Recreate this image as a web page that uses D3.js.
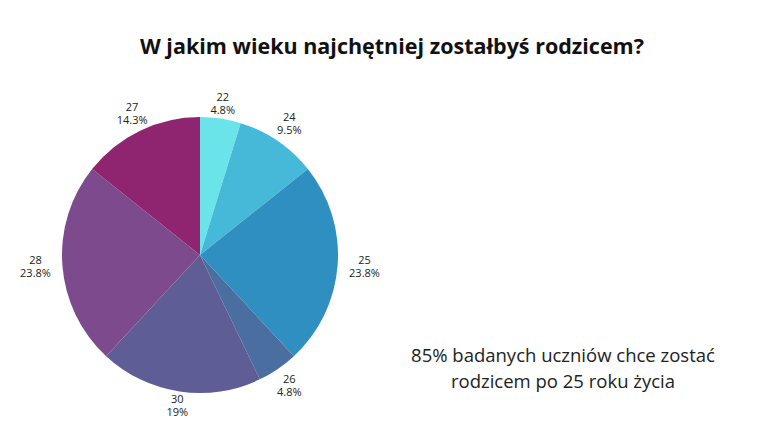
<!DOCTYPE html>
<html><head><meta charset="utf-8">
<script src="https://cdn.jsdelivr.net/npm/d3@7"></script>
<style>body{margin:0;background:#fff;font-family:"Open Sans",sans-serif}</style>
</head><body><div></div>
<script>
const ages = ['22', '24', '25', '26', '30', '28', '27'];
const counts = [1, 2, 5, 1, 4, 5, 3];
const percents = ['4.8%', '9.5%', '23.8%', '4.8%', '19%', '23.8%', '14.3%'];
const colors = ['#6be4e9', '#46b9d8', '#2f8fc0', '#4b6ea0', '#5f5d95', '#7e4a8e', '#8f2471'];

const w = 768, h = 444, cx = 200, cy = 255, r = 138;

const svg = d3.select('div').append('svg').attr('width', w).attr('height', h);

svg.append('text').attr('x', 392).attr('y', 54).attr('text-anchor', 'middle')
    .attr('font-size', 21.5).attr('font-weight', 700).attr('fill', '#111')
    .text('W jakim wieku najchętniej zostałbyś rodzicem?');

const pie = d3.pie().sort(null).value(d => d);
const arcs = pie(counts);
const arc = d3.arc().innerRadius(0).outerRadius(r);

const g = svg.append('g').attr('transform', 'translate(' + cx + ',' + cy + ')');
g.selectAll('path').data(arcs).enter().append('path')
    .attr('d', arc).attr('fill', (d, i) => colors[i]);

// two separate text lines per label, centred on a point outside the slice
const pos = d => {
    const a = (d.startAngle + d.endAngle) / 2;
    const rr = 150 + 15 * Math.abs(Math.sin(a));
    return [rr * Math.sin(a), -rr * Math.cos(a)];
};
g.selectAll('text.age').data(arcs).enter().append('text')
    .attr('text-anchor', 'middle').attr('font-size', 11).attr('fill', '#222')
    .attr('x', d => pos(d)[0]).attr('y', d => pos(d)[1] - 3)
    .text((d, i) => ages[i]);
g.selectAll('text.pct').data(arcs).enter().append('text')
    .attr('text-anchor', 'middle').attr('font-size', 11).attr('fill', '#222')
    .attr('x', d => pos(d)[0]).attr('y', d => pos(d)[1] + 10)
    .text((d, i) => percents[i]);

const note = svg.append('g').attr('font-size', 18.5).attr('fill', '#222');
note.append('text').attr('text-anchor', 'middle').attr('x', 563).attr('y', 362).text('85% badanych uczniów chce zostać');
note.append('text').attr('text-anchor', 'middle').attr('x', 563).attr('y', 388).text('rodzicem po 25 roku życia');
</script></body></html>
